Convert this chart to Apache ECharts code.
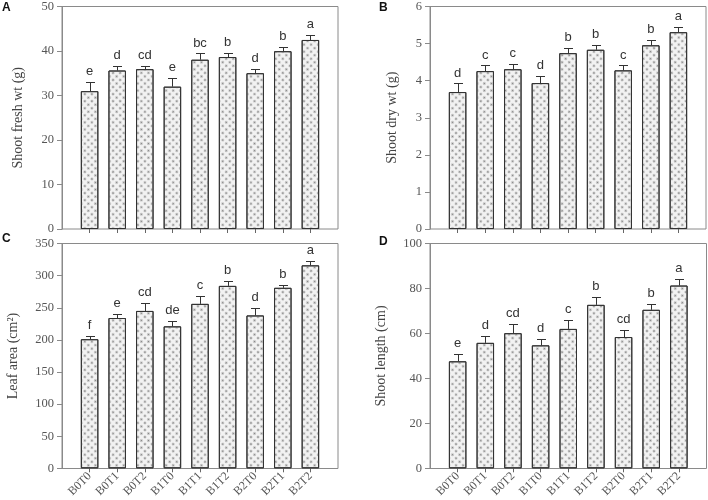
<!DOCTYPE html>
<html>
<head>
<meta charset="utf-8">
<script src="https://cdn.jsdelivr.net/npm/echarts@6/dist/echarts.min.js"></script>
<style>html,body{margin:0;padding:0;background:#fff;}#c{width:708px;height:500px;}</style>
</head>
<body>
<div id="c"></div>
<script>
// ---- data ----
const categories = ['B0T0','B0T1','B0T2','B1T0','B1T1','B1T2','B2T0','B2T1','B2T2'];

const freshWt = [30.7, 35.3, 35.6, 31.7, 37.7, 38.3, 34.7, 39.6, 42.1];
const freshWtErr = [2.0, 1.0, 0.8, 1.9, 1.4, 0.9, 0.9, 0.9, 1.2];
const freshWtLetters = ['e','d','cd','e','bc','b','d','b','a'];

const dryWt = [3.66, 4.22, 4.27, 3.90, 4.70, 4.79, 4.24, 4.91, 5.26];
const dryWtErr = [0.23, 0.15, 0.13, 0.19, 0.15, 0.12, 0.13, 0.13, 0.14];
const dryWtLetters = ['d','c','c','d','b','b','c','b','a'];

const leafArea = [201, 234, 245, 221, 256, 284, 238, 281, 316];
const leafAreaErr = [5, 6, 12, 9, 12, 8, 11, 4, 7];
const leafAreaLetters = ['f','e','cd','de','c','b','d','b','a'];

const shootLen = [47.6, 55.8, 60.1, 54.7, 62.0, 72.7, 58.4, 70.5, 81.3];
const shootLenErr = [3.4, 3.0, 4.0, 2.7, 4.0, 3.4, 3.0, 2.6, 3.0];
const shootLenLetters = ['e','d','cd','d','c','b','cd','b','a'];

const yMax = [50, 6, 350, 100];
const yInterval = [10, 1, 50, 20];
const yNames = ['Shoot fresh wt (g)', 'Shoot dry wt (g)', 'Leaf area (cm²)', 'Shoot length (cm)'];
const panelLetters = ['A','B','C','D'];

// ---- layout ----
const panels = [
  {left: 62,  top: 4.5,   w: 276, h: 224.5, nameGap: 37, showLabels: false},
  {left: 430, top: 4.5,   w: 276, h: 224.5, nameGap: 31, showLabels: false},
  {left: 62,  top: 243.5, w: 276, h: 225,   nameGap: 42, showLabels: true},
  {left: 430, top: 243.5, w: 276.5, h: 225, nameGap: 42, showLabels: true}
];
const letterPos = [[2, 2], [379, 2], [2, 233], [379, 236]];

const values = [freshWt, dryWt, leafArea, shootLen];
const errs = [freshWtErr, dryWtErr, leafAreaErr, shootLenErr];
const letters = [freshWtLetters, dryWtLetters, leafAreaLetters, shootLenLetters];

const SERIF = 'Liberation Serif, Times New Roman, serif';
const SANS = 'Liberation Sans, Arial, sans-serif';

const grid = [], xAxis = [], yAxis = [], series = [], graphic = [];

panels.forEach((p, k) => {
  grid.push({left: p.left, top: p.top, width: p.w, height: p.h, show: true,
    borderColor: '#8a8a8a', borderWidth: 1, backgroundColor: 'transparent'});
});
panels.forEach((p, k) => {
  const pad = p.w / 20;
  grid.push({left: p.left + pad, top: p.top, width: p.w - 2 * pad, height: p.h, show: false});
});

panels.forEach((p, k) => {
  xAxis.push({gridIndex: k, type: 'value', min: 0, max: 1, show: false});
  yAxis.push({gridIndex: k, type: 'value', min: 0, max: yMax[k], interval: yInterval[k],
    name: yNames[k], nameLocation: 'middle', nameGap: p.nameGap,
    nameTextStyle: {fontFamily: SERIF, fontSize: 14, color: '#444'},
    axisLine: {show: true, lineStyle: {color: '#8a8a8a', width: 1}},
    axisTick: {show: true, length: 5, inside: false, lineStyle: {color: '#8a8a8a'}},
    axisLabel: {fontFamily: SERIF, fontSize: 12.5, color: '#555', margin: 8},
    splitLine: {show: false}});
});
panels.forEach((p, k) => {
  xAxis.push({gridIndex: k + 4, type: 'category', data: categories,
    axisLine: {show: false},
    axisTick: {show: true, alignWithLabel: true, length: 4, lineStyle: {color: '#666'}},
    axisLabel: {show: p.showLabels, rotate: 45, interval: 0, margin: 6,
      fontFamily: SERIF, fontSize: 12, color: '#555'}});
  yAxis.push({gridIndex: k + 4, type: 'value', min: 0, max: yMax[k], show: false});
});

panels.forEach((p, k) => {
  series.push({
    type: 'bar', xAxisIndex: k + 4, yAxisIndex: k + 4,
    data: values[k], barWidth: 17.5,
    itemStyle: {color: '#f2f2f2', borderColor: '#333', borderWidth: 1,
      decal: {symbol: 'circle', symbolSize: 0.75, dashArrayX: [2.2, 1.3], dashArrayY: [2.2, 1.3],
        rotation: Math.PI / 4, color: '#858585'}},
    emphasis: {disabled: true},
    silent: true
  });
  const lettersK = letters[k];
  series.push({
    type: 'custom', xAxisIndex: k + 4, yAxisIndex: k + 4, z: 5, silent: true,
    data: values[k].map((v, i) => [i, v, errs[k][i]]),
    renderItem: function (params, api) {
      const x = api.value(0), v = api.value(1), e = api.value(2);
      const b = api.coord([x, v]);
      const t = api.coord([x, v + e]);
      const cx = Math.round(t[0]) + 0.5;
      const ty = Math.round(t[1]) + 0.5;
      return {type: 'group', children: [
        {type: 'line', shape: {x1: cx, y1: b[1], x2: cx, y2: ty}, style: {stroke: '#333', lineWidth: 1}},
        {type: 'line', shape: {x1: cx - 4.5, y1: ty, x2: cx + 4.5, y2: ty}, style: {stroke: '#333', lineWidth: 1}},
        {type: 'text', x: t[0], y: t[1] - 4, style: {text: lettersK[params.dataIndex],
          textAlign: 'center', textVerticalAlign: 'bottom', font: '13px ' + SANS, fill: '#333'}}
      ]};
    }
  });
  graphic.push({type: 'text', left: letterPos[k][0], top: letterPos[k][1],
    style: {text: panelLetters[k], font: 'bold 12px ' + SANS, fill: '#111'}});
});

const chart = echarts.init(document.getElementById('c'), null, {renderer: 'canvas'});
chart.setOption({animation: false, grid, xAxis, yAxis, series, graphic});
</script>
</body>
</html>
